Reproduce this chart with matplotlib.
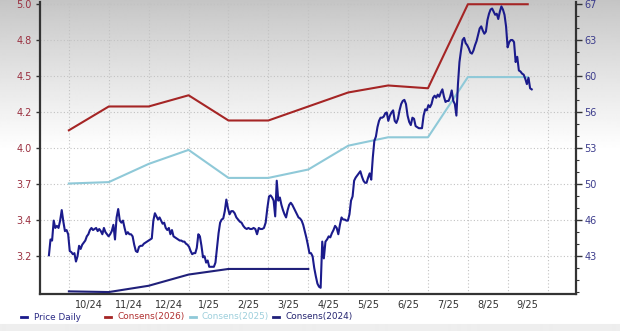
import numpy as np
import pandas as pd
import matplotlib
matplotlib.use('Agg')
import matplotlib.pyplot as plt
from matplotlib.lines import Line2D
from matplotlib.ticker import FixedLocator, FixedFormatter, NullFormatter, AutoMinorLocator

plt.rcParams['font.family'] = ['DejaVu Sans']

# ---------------- data ----------------
month_labels = ['10/24', '11/24', '12/24', '1/25', '2/25', '3/25',
                '4/25', '5/25', '6/25', '7/25', '8/25', '9/25']
month_starts = ['2024-10-01', '2024-11-01', '2024-12-01', '2025-01-01', '2025-02-01',
                '2025-03-01', '2025-04-01', '2025-05-01', '2025-06-01', '2025-07-01',
                '2025-08-01', '2025-09-01', '2025-10-01']

left_tick_labels = ['3.2', '3.4', '3.7', '4.0', '4.2', '4.5', '4.8', '5.0']
right_tick_labels = ['43', '46', '50', '53', '56', '60', '63', '67']

cons_dates = ['2024-10-01', '2024-11-01', '2024-12-01', '2025-01-01', '2025-02-01',
              '2025-03-01', '2025-04-01', '2025-05-01', '2025-06-01', '2025-07-01',
              '2025-08-01', '2025-09-16']
cons_2026 = [4.10, 4.27, 4.27, 4.35, 4.17, 4.17, 4.27, 4.37, 4.42, 4.40, 5.00, 5.00]
cons_2025 = [3.72, 3.73, 3.86, 3.96, 3.76, 3.76, 3.82, 3.99, 4.05, 4.05, 4.48, 4.48]
cons_2024_dates = ['2024-10-01', '2024-11-01', '2024-12-01', '2025-01-01', '2025-02-01',
                   '2025-03-01', '2025-04-01']
cons_2024 = [2.95, 2.945, 2.99, 3.07, 3.11, 3.11, 3.11]

price_start, price_end = '2024-09-16', '2025-09-19'
price_daily = [
    43.1, 44.6, 44.5, 46.4, 45.7, 45.9, 45.7, 46.4, 47.4, 46.3, 45.4, 45.5, 45.1,
    43.5, 43.4, 43.2, 43.3, 42.5, 43.0, 44.0, 43.7, 44.1, 44.3, 44.5, 44.9, 45.1,
    45.5, 45.7, 45.5, 45.6, 45.7, 45.4, 45.6, 45.4, 45.1, 45.7, 45.3, 45.1, 44.9,
    45.1, 45.4, 46.0, 44.6, 46.7, 47.5, 46.4, 46.2, 46.4, 45.7, 45.1, 45.3, 45.1, 45.1, 44.9,
    44.1, 43.5, 43.4, 43.9, 44.0, 44.0, 44.2, 44.3, 44.4, 44.5, 44.6, 44.7,
    46.4, 47.1, 46.8, 46.5, 46.7, 46.4, 46.1, 46.2, 45.7, 45.5, 45.7, 45.1, 45.5,
    44.9, 44.8, 44.7, 44.6, 44.5, 44.5, 44.4, 44.4, 44.2, 44.1, 43.9, 43.5, 43.2,
    43.3, 43.3, 43.8, 45.1, 44.9, 44.0, 42.9, 43.0, 42.4, 42.6, 42.0, 42.0, 42.0, 42.0, 42.4,
    43.8, 45.2, 46.2, 46.5, 46.6, 47.3, 48.4, 47.6, 47.0, 47.3, 47.3, 47.1, 46.7, 46.5, 46.3,
    46.2, 45.9, 45.7, 45.6, 45.7, 45.6, 45.6, 45.7, 45.6, 45.1, 45.7, 45.6, 45.6, 45.7, 46.2,
    47.6, 48.7, 48.8, 48.6, 48.3, 46.8, 50.2, 48.3, 48.6, 47.9, 47.4, 47.0, 46.7, 47.4, 47.9,
    48.1, 47.9, 47.6, 47.3, 47.0, 46.7, 46.6, 46.4, 46.0, 45.4, 44.8, 44.1, 43.3, 43.3, 43.0,
    41.9, 41.1, 40.4, 40.1, 40.0,
    44.4, 42.8, 44.4, 44.6, 44.9, 44.8, 45.2, 45.5, 45.9, 45.7, 45.1, 46.0, 46.7, 46.5, 46.5,
    46.4, 46.4, 47.0, 48.3, 48.7, 50.2,
    50.5, 50.7, 50.9, 51.1, 50.6, 50.2, 50.0, 50.0, 50.5, 50.9, 50.3,
    52.4, 54.0, 54.4, 55.3, 55.9, 56.2, 56.2, 56.3, 56.6, 56.7, 55.9, 56.4, 56.7, 56.9, 55.9,
    55.7, 56.1, 56.9, 57.5, 57.8, 57.9, 57.5, 56.4, 55.8, 55.5, 56.2, 56.1, 55.4, 55.3, 55.2,
    55.2, 55.2,
    56.4, 57.0, 56.9, 57.4, 57.2, 57.5, 58.1, 58.3, 58.1, 58.4, 58.2, 58.6, 58.9, 58.2, 57.7,
    57.8, 57.8, 58.2, 58.8, 57.8, 57.5, 56.4,
    59.4, 61.5, 62.6, 63.6, 63.8, 63.3, 63.1, 62.8, 62.4, 62.3, 62.6, 63.1, 63.5, 64.1, 64.7,
    64.9, 64.5, 64.2, 64.4, 65.5, 66.1, 66.5, 66.6, 66.3, 66.0, 66.1, 65.6, 66.3, 66.8, 66.5,
    66.0, 64.9, 62.9, 63.4, 63.6, 63.6, 63.4, 61.5, 62.0, 60.7, 60.6, 60.4, 60.3, 59.9, 59.4,
    60.0, 59.0, 58.9,
]

# ---------------- helpers ----------------
def month_pos(d):
    """Position on the x axis in months since Oct 2024 (one month = one grid cell)."""
    d = pd.DatetimeIndex(pd.to_datetime(d))
    frac = (d.day - 1 + d.hour / 24.0) / d.days_in_month
    return np.asarray((d.year - 2024) * 12 + d.month - 10 + frac, dtype=float)

W, H, DPI = 620, 331, 100
fig = plt.figure(figsize=(W / DPI, H / DPI), dpi=DPI)

# background gradient (grey at top fading to white, light band at bottom)
rows = np.arange(H)
val = 0.77 + 0.23 * np.clip(rows / 150.0, 0, 1) ** 0.9
val[rows >= 324] = 0.93
bg = fig.add_axes([0, 0, 1, 1], zorder=-5)
bg.imshow(np.repeat(val[:, None], 2, axis=1), cmap='gray', vmin=0, vmax=1,
          aspect='auto', extent=[0, 1, 0, 1], interpolation='bilinear')
bg.axis('off')

# main axes
x0, x1 = 40, 576
ytop, ybot = 2, 294.3
ax = fig.add_axes([x0 / W, 1 - ybot / H, (x1 - x0) / W, (ybot - ytop) / H])
ax.set_facecolor('none')
ax2 = ax.twinx()
ax2.set_facecolor('none')

red = '#a52525'
lblue = '#8fc9d8'
navy = '#1b1b8c'
navy2 = '#20207a'

ax.plot(month_pos(cons_dates), cons_2026, color=red, lw=1.5, zorder=3)
ax.plot(month_pos(cons_dates), cons_2025, color=lblue, lw=1.5, zorder=3)
ax.plot(month_pos(cons_2024_dates), cons_2024, color=navy2, lw=1.5, zorder=3)

price_dates = pd.date_range(price_start, price_end, periods=len(price_daily))
ax2.plot(month_pos(price_dates), price_daily, color=navy, lw=1.5, zorder=4)

# axes limits
ax.set_xlim(-0.724, 12.71)
ax.set_ylim(2.929, 5.016)
ax2.set_ylim(39.38, 67.22)

# x axis: grid at month starts, labels centred in each month
mpos = month_pos(month_starts)
ax.xaxis.set_major_locator(FixedLocator(mpos))
ax.xaxis.set_major_formatter(NullFormatter())
ax.xaxis.set_minor_locator(FixedLocator((mpos[:-1] + mpos[1:]) / 2))
ax.xaxis.set_minor_formatter(FixedFormatter(month_labels))
ax.tick_params(axis='x', which='both', length=0, labelsize=7, colors='#333333', pad=4)

# left axis
lt = np.linspace(3.2, 5.0, len(left_tick_labels))
ax.yaxis.set_major_locator(FixedLocator(lt))
ax.yaxis.set_major_formatter(FixedFormatter(left_tick_labels))
ax.tick_params(axis='y', which='major', length=3, width=1, color='#333333',
               labelsize=7, labelcolor='#9a3040', pad=3)

# right axis
rt = np.linspace(43, 67, len(right_tick_labels))
ax2.yaxis.set_major_locator(FixedLocator(rt))
ax2.yaxis.set_major_formatter(FixedFormatter(right_tick_labels))
ax2.yaxis.set_minor_locator(AutoMinorLocator(3))
ax2.tick_params(axis='y', which='major', length=4, width=1, color='#333333',
                labelsize=7, labelcolor='#3c3c8c', pad=2)
ax2.tick_params(axis='y', which='minor', length=2.5, width=0.8, color='#333333')

# grid
ax.grid(True, which='major', axis='both', linestyle=(0, (1, 2)), color='#c2c2c2', lw=0.8)
ax.set_axisbelow(True)

# spines
for a in (ax, ax2):
    a.spines['top'].set_visible(False)
ax.spines['right'].set_visible(False)
ax2.spines['left'].set_visible(False)
ax2.spines['bottom'].set_visible(False)
for s in ('left', 'bottom'):
    ax.spines[s].set_color('#333333')
    ax.spines[s].set_linewidth(1.6)
ax2.spines['right'].set_color('#333333')
ax2.spines['right'].set_linewidth(1.6)

# legend (drawn manually in one row)
legend_items = [('Price Daily', navy, '#2b2b85'),
                ('Consens(2026)', red, '#b03030'),
                ('Consens(2025)', lblue, '#9dcfdc'),
                ('Consens(2024)', navy2, '#252570')]
leg_x = [24, 107.5, 192.5, 275.5]
leg_y = 317
for (txt, lc, tc), lx in zip(legend_items, leg_x):
    fig.add_artist(Line2D([(lx - 3) / W, (lx + 3) / W], [1 - leg_y / H] * 2,
                          color=lc, lw=2, transform=fig.transFigure))
    fig.text((lx + 9.5) / W, 1 - leg_y / H, txt, color=tc, fontsize=6.4,
             va='center', ha='left')

fig.savefig('out.png', dpi=DPI)
